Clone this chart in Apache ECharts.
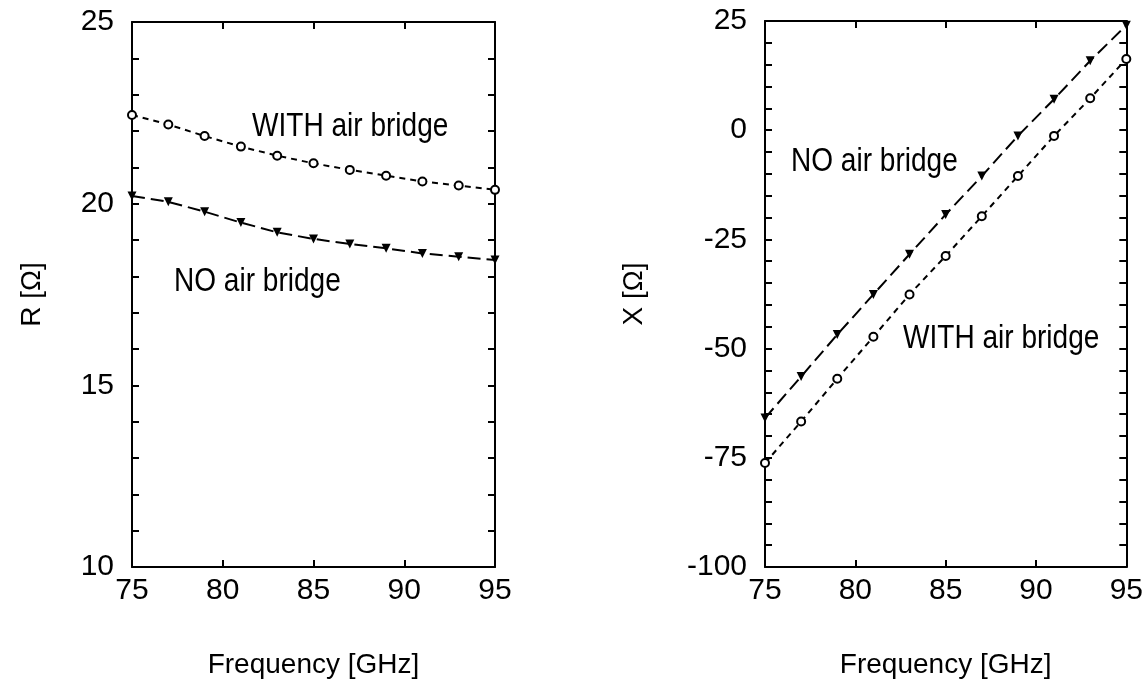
<!DOCTYPE html>
<html>
<head>
<meta charset="utf-8">
<title>R and X vs frequency</title>
<script src="https://cdn.jsdelivr.net/npm/echarts@6/dist/echarts.min.js"></script>
<style>
  html, body { margin: 0; padding: 0; background: #fff; }
  #chart { width: 1146px; height: 692px; }
</style>
</head>
<body>
<div id="chart"></div>
<script>
// frequency points (GHz)
var freq = [75, 77, 79, 81, 83, 85, 87, 89, 91, 93, 95];

// R [Ohm]
var rWith = [22.44, 22.18, 21.86, 21.57, 21.32, 21.11, 20.93, 20.77, 20.61, 20.50, 20.38];
var rNo = [20.21, 20.05, 19.78, 19.48, 19.21, 19.03, 18.89, 18.77, 18.63, 18.54, 18.45];

// X [Ohm]
var xWith = [-76.2, -66.7, -56.9, -47.3, -37.6, -28.8, -19.7, -10.5, -1.3, 7.3, 16.3];
var xNo = [-65.9, -56.4, -46.8, -37.6, -28.4, -19.3, -10.5, -1.3, 7.1, 15.9, 24.0];

// tick labels
var freqTicks = [75, 80, 85, 90, 95];
var rTicks = [10, 15, 20, 25];
var xTicks = [-100, -75, -50, -25, 0, 25];

var FONT = '"Liberation Sans", Arial, sans-serif';

function pairs(xs, ys) {
    var out = [];
    for (var i = 0; i < xs.length; i++) {
        out.push([xs[i], ys[i]]);
    }
    return out;
}

// axis helpers
function xAx(grid, pos, labels) {
    return {
        type: 'value', gridIndex: grid, position: pos,
        min: freqTicks[0], max: freqTicks[freqTicks.length - 1], interval: 5,
        axisLine: { show: true, onZero: false, lineStyle: { color: '#000', width: 2 } },
        axisTick: { show: true, inside: true, length: 7, lineStyle: { color: '#000', width: 2 } },
        axisLabel: { show: labels, margin: 9, fontSize: 30, color: '#000', fontFamily: FONT },
        splitLine: { show: false },
        name: labels ? 'Frequency [GHz]' : '',
        nameLocation: 'middle', nameGap: 84,
        nameTextStyle: { fontSize: 28, color: '#000', fontFamily: FONT }
    };
}

function yAx(grid, pos, labels, ticks, step, name, gap) {
    return {
        type: 'value', gridIndex: grid, position: pos,
        min: ticks[0], max: ticks[ticks.length - 1], interval: step,
        axisLine: { show: true, onZero: false, lineStyle: { color: '#000', width: 2 } },
        axisTick: { show: true, inside: true, length: 7, lineStyle: { color: '#000', width: 2 } },
        minorTick: { show: true, splitNumber: 5, length: 7, lineStyle: { color: '#000', width: 2 } },
        axisLabel: { show: labels, margin: 18, fontSize: 30, color: '#000', fontFamily: FONT },
        splitLine: { show: false },
        name: labels ? name : '',
        nameLocation: 'middle', nameGap: gap, nameRotate: 90,
        nameTextStyle: { fontSize: 28, color: '#000', fontFamily: FONT }
    };
}

function withSeries(xi, yi, data) {
    return {
        type: 'line', xAxisIndex: xi, yAxisIndex: yi, data: data,
        symbol: 'circle', symbolSize: 8,
        itemStyle: { color: '#fff', borderColor: '#000', borderWidth: 2 },
        lineStyle: { color: '#000', width: 2, type: [6, 5] }
    };
}

function noSeries(xi, yi, data) {
    return {
        type: 'line', xAxisIndex: xi, yAxisIndex: yi, data: data,
        symbol: 'triangle', symbolRotate: 180, symbolSize: 9,
        itemStyle: { color: '#000' },
        lineStyle: { color: '#000', width: 2, type: [13, 6] }
    };
}

// condensed annotation text (no narrow font installed, so squeeze it)
function note(txt, left, top) {
    return {
        type: 'text', left: left, top: top, scaleX: 0.85,
        style: { text: txt, fill: '#000', font: '33px ' + FONT }
    };
}

var myChart = echarts.init(document.getElementById('chart'));

var option = {
    animation: false,
    backgroundColor: '#fff',
    grid: [
        { left: 132, right: 651, top: 22, bottom: 125 },
        { left: 765, right: 18, top: 21, bottom: 125 }
    ],
    xAxis: [
        xAx(0, 'bottom', true),
        xAx(0, 'top', false),
        xAx(1, 'bottom', true),
        xAx(1, 'top', false)
    ],
    yAxis: [
        yAx(0, 'left', true, rTicks, 5, 'R [Ω]', 86),
        yAx(0, 'right', false, rTicks, 5, '', 0),
        yAx(1, 'left', true, xTicks, 25, 'X [Ω]', 117),
        yAx(1, 'right', false, xTicks, 25, '', 0)
    ],
    graphic: [
        note('WITH air bridge', 252, 110),
        note('NO air bridge', 174, 265),
        note('NO air bridge', 791, 145),
        note('WITH air bridge', 903, 322)
    ],
    series: [
        withSeries(0, 0, pairs(freq, rWith)),
        noSeries(0, 0, pairs(freq, rNo)),
        withSeries(2, 2, pairs(freq, xWith)),
        noSeries(2, 2, pairs(freq, xNo))
    ]
};

myChart.setOption(option);
</script>
</body>
</html>
